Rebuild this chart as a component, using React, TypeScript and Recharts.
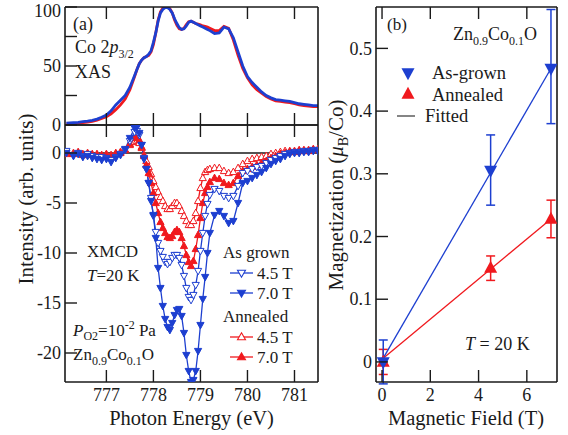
import React from "react";
import { ComposedChart, Line, Scatter, ErrorBar, XAxis, YAxis, ReferenceLine } from "recharts";

const FONT = '"Liberation Serif", "Times New Roman", Times, serif';
const BLUE = "#1d3fd0";
const RED = "#f0191e";
const INK = "#1a1a1a";
const W = 568;
const H = 435;

// ---- panel (a): photon energy grid (eV)
const energy = [
  776.15, 776.3, 776.4, 776.5, 776.6, 776.7, 776.8, 776.9, 777.0, 777.1, 777.2, 777.3, 777.4, 777.5, 777.6,
  777.65, 777.7, 777.75, 777.8, 777.85, 777.9, 777.95, 778.0, 778.05, 778.1, 778.15, 778.2, 778.25, 778.3,
  778.35, 778.4, 778.45, 778.5, 778.55, 778.6, 778.65, 778.7, 778.75, 778.8, 778.85, 778.9, 778.95, 779.0,
  779.05, 779.1, 779.15, 779.2,
  779.3, 779.4, 779.5, 779.6, 779.7, 779.8, 779.9, 780.0, 780.1, 780.2, 780.3, 780.4, 780.5, 780.6, 780.7,
  780.8, 780.9, 781.0, 781.1, 781.2, 781.3, 781.4, 781.5,
];

// XAS (normalised)
const xasAsGrown = [
  1.5, 2, 2.3, 2.8, 3.3, 4, 5, 6.5, 8.5, 12, 17, 21, 25, 32, 42,
  47, 52, 55, 57, 58, 60, 63, 70, 78, 88, 95, 98, 99.5, 99.5, 98, 95, 90, 86, 82.5, 81, 81.5, 84, 87, 88, 87,
  86, 85, 84, 83, 82, 81, 80,
  77.5, 78, 83, 81.5, 74, 62, 50, 41, 36, 32, 28, 25, 23, 21.5, 21, 20.5, 20, 19, 18, 17.5, 17, 16.5, 16.5,
];
const xasAnnealed = [
  1, 1.2, 1.5, 2, 2.5, 3, 4, 5.5, 7, 9.5, 13, 17, 22, 30, 41,
  47, 52, 55, 57, 58, 59, 62, 68, 78, 89, 96, 99, 100, 100, 98.5, 95, 89, 84.5, 81.5, 81, 82, 85, 87.5, 88, 87,
  86, 85.5, 85, 84, 83.5, 83, 82,
  80, 80, 83.5, 82, 72, 59, 48, 40, 34, 30, 27, 24, 22, 20.5, 20, 19.5, 19, 18, 17, 16.5, 16, 15.5, 15.5,
];

// XMCD
const xmcdGrown45 = [
  0.2, -0.2, 0, -0.3, -0.1, -0.3, -0.4, -0.4, -0.5, -0.7, -0.4, -0.1, 0.3, 1.2, 2.1,
  2.2, 1.8, 0.8, -0.5, -1.6, -3.0, -4.5, -6.3, -7.9, -9.0, -9.8, -10.4, -10.9, -11.1, -10.9, -10.5, -10.2,
  -10.2, -10.5, -11.2, -12.3, -13.5, -14.4, -14.7, -14.2, -13.2, -11.8, -9.8, -8.0, -6.3, -5.1, -4.2,
  -3.6, -3.8, -4.3, -4.5, -4.3, -3.3, -2.0, -1.8, -1.6, -1.4, -1.3, -1.0, -0.7, -0.5, -0.3, -0.1, 0, 0.1,
  0.1, 0.2, 0.2, 0.3, 0.3,
];
const xmcdGrown70 = [
  0, -0.3, -0.1, -0.4, -0.3, -0.5, -0.6, -0.7, -0.6, -0.9, -0.5, -0.2, 0.4, 1.5, 2.5,
  2.6, 2.0, 0.8, -0.6, -1.6, -3.0, -4.8, -6.2, -8.5, -11.5, -13.5, -15.3, -16.6, -17.4, -17.7, -17.0, -16.2,
  -15.7, -15.6, -16.3, -18.0, -20.2, -21.8, -22.9, -22.7, -21.8, -19.8, -17.2, -14.6, -12.4, -10.0, -8.0,
  -6.2, -5.8, -6.3, -7.0, -6.8, -5.0, -3.0, -2.8, -2.5, -2.2, -1.9, -1.5, -1.1, -0.8, -0.6, -0.3, -0.1, 0,
  0, 0.1, 0.1, 0.2, 0.2,
];
const xmcdAnnealed45 = [
  -0.1, 0, 0.1, -0.1, 0, -0.1, -0.1, -0.2, -0.1, -0.2, 0, 0.1, 0.3, 0.8, 1.1,
  1.2, 1.0, 0.5, -0.2, -0.8, -1.4, -2.1, -2.8, -3.4, -3.9, -4.4, -4.8, -5.3, -5.6, -5.6, -5.3, -5.0,
  -5.0, -5.3, -5.8, -6.3, -6.8, -7.2, -7.2, -6.8, -6.0, -4.8, -3.5, -2.5, -1.9, -1.7, -1.6,
  -1.5, -1.5, -1.8, -2.0, -1.9, -1.5, -1.1, -0.8, -0.6, -0.5, -0.4, -0.3, -0.1, 0, 0.1, 0.2, 0.2, 0.2,
  0.3, 0.3, 0.3, 0.4, 0.4,
];
const xmcdAnnealed70 = [
  0, -0.1, 0, -0.2, -0.1, -0.2, -0.2, -0.3, -0.2, -0.3, -0.1, 0, 0.3, 0.9, 1.5,
  1.6, 1.3, 0.6, -0.3, -1.2, -2.0, -3.0, -4.0, -5.0, -6.0, -6.9, -7.5, -8.0, -8.4, -8.5, -8.3, -7.9,
  -7.7, -7.9, -8.5, -9.3, -10.2, -10.9, -11.3, -10.8, -9.6, -8.2, -6.5, -5.0, -4.0, -3.4, -2.9,
  -2.5, -2.6, -3.0, -3.2, -3.0, -2.3, -1.8, -1.6, -1.4, -1.2, -1.0, -0.8, -0.5, -0.3, -0.1, 0, 0.1, 0.1,
  0.2, 0.2, 0.2, 0.3, 0.3,
];

const energyTicks = [777, 778, 779, 780, 781];
const xasTicks = [0, 25, 50, 75, 100];
const xasLabelled = [0, 50, 100];
const xmcdTicks = [0, -5, -10, -15, -20];

// ---- panel (b): magnetization vs field
const field = [0.05, 4.5, 7.0];
const momentAsGrown = [0.0, 0.305, 0.468];
const errAsGrown = [[0.035, 0.035], [0.055, 0.057], [0.088, 0.094]];
const momentAnnealed = [0.0, 0.15, 0.228];
const errAnnealed = [[0.02, 0.02], [0.02, 0.019], [0.03, 0.03]];
const fitField = [0.05, 7.0];
const fitAsGrown = [0.006, 0.468];
const fitAnnealed = [0.006, 0.228];
const fieldTicks = [0, 2, 4, 6];
const momentTicks = [0, 0.1, 0.2, 0.3, 0.4, 0.5];

const xasRows = energy.map((e, i) => ({ e, grown: xasAsGrown[i], ann: xasAnnealed[i] }));
const xmcdRows = energy.map((e, i) => ({
  e,
  g45: xmcdGrown45[i],
  g70: xmcdGrown70[i],
  a45: xmcdAnnealed45[i],
  a70: xmcdAnnealed70[i],
}));
const grownRows = field.map((f, i) => ({ f, m: momentAsGrown[i], err: errAsGrown[i] }));
const annealedRows = field.map((f, i) => ({ f, m: momentAnnealed[i], err: errAnnealed[i] }));
const fitGrownRows = fitField.map((f, i) => ({ f, m: fitAsGrown[i] }));
const fitAnnealedRows = fitField.map((f, i) => ({ f, m: fitAnnealed[i] }));

// panel frames (px)
const A_LEFT = 65;
const A_RIGHT = 318;
const XAS_TOP = 7;
const XAS_BOTTOM = 125;
const XMCD_BOTTOM = 382;
const B_LEFT = 376;
const B_RIGHT = 557;
const B_TOP = 7;
const B_BOTTOM = 382;

const E_DOMAIN: [number, number] = [776.12, 781.5];
const TICK = 12;
const AXIS = { stroke: INK, strokeWidth: 1.6 };
const TICK_FONT = 18;
// every axis is 1px thick, margins take that off
const AX = 1;
const frame = (top: number, bottom: number, left: number, right: number) => ({
  top: top - AX,
  bottom: H - bottom - AX,
  left: left - AX,
  right: W - right - AX,
});

// inward ticks drawn by hand, labels optional
const leftTick = (labelled: number[] | null, fmt: (v: number) => string) => (p: any) => {
  const v = p.payload.value;
  return (
    <g>
      <line x1={p.x} x2={p.x + TICK} y1={p.y} y2={p.y} stroke={INK} strokeWidth={1.4} />
      {(!labelled || labelled.includes(v)) && (
        <text x={p.x - 4} y={Math.max(p.y, 11)} dy="0.34em" textAnchor="end" fontSize={TICK_FONT}
          fontFamily={FONT} fill={INK}>
          {fmt(v)}
        </text>
      )}
    </g>
  );
};
const rightTick = (p: any) => (
  <line x1={p.x} x2={p.x - TICK} y1={p.y} y2={p.y} stroke={INK} strokeWidth={1.4} />
);
const upTick = (p: any) => (
  <line x1={p.x} x2={p.x} y1={p.y} y2={p.y - TICK} stroke={INK} strokeWidth={1.4} />
);
const downTick = (p: any) => (
  <line x1={p.x} x2={p.x} y1={p.y} y2={p.y + TICK} stroke={INK} strokeWidth={1.4} />
);
const bottomTick = (p: any) => (
  <g>
    <line x1={p.x} x2={p.x} y1={p.y} y2={p.y - TICK} stroke={INK} strokeWidth={1.4} />
    <text x={p.x} y={p.y + 19} textAnchor="middle" fontSize={TICK_FONT} fontFamily={FONT} fill={INK}>
      {p.payload.value}
    </text>
  </g>
);

const triUp = (cx: number, cy: number, r: number, h: number) =>
  `M${cx},${cy - h * 0.6}L${cx + r},${cy + h * 0.4}L${cx - r},${cy + h * 0.4}Z`;
const triDown = (cx: number, cy: number, r: number, h: number) =>
  `M${cx - r},${cy - h * 0.4}L${cx + r},${cy - h * 0.4}L${cx},${cy + h * 0.6}Z`;

const marker = (up: boolean, color: string, open: boolean) => (p: any) => {
  if (p.cx == null || p.cy == null) return <g key={p.index} />;
  const d = up ? triUp(p.cx, p.cy, 3.6, 6.5) : triDown(p.cx, p.cy, 3.6, 6.5);
  return <path key={p.index} d={d} fill={open ? "#fff" : color} stroke={color} strokeWidth={1} />;
};

const bigTri = (up: boolean, color: string) => (p: any) => (
  <path d={up ? triUp(p.cx, p.cy, 6.5, 12) : triDown(p.cx, p.cy, 6.5, 12)} fill={color} />
);

const noShape = () => <g />;

const layer: React.CSSProperties = { position: "absolute", left: 0, top: 0 };

function XasPanel() {
  return (
    <div style={layer}>
      <ComposedChart width={W} height={H} data={xasRows} margin={frame(XAS_TOP, XAS_BOTTOM, A_LEFT, A_RIGHT)}>
        <XAxis dataKey="e" type="number" domain={E_DOMAIN} allowDataOverflow ticks={energyTicks} interval={0}
          height={AX} tickSize={0} tickMargin={0} axisLine={AXIS} tickLine={false} tick={upTick} />
        <XAxis xAxisId="top" orientation="top" dataKey="e" type="number" domain={E_DOMAIN} allowDataOverflow
          ticks={energyTicks} interval={0} height={AX} tickSize={0} tickMargin={0} axisLine={AXIS}
          tickLine={false} tick={downTick} />
        <YAxis type="number" domain={[0, 100]} allowDataOverflow ticks={xasTicks} interval={0} width={AX}
          tickSize={0} tickMargin={0} axisLine={AXIS} tickLine={false}
          tick={leftTick(xasLabelled, (v) => String(v))} />
        <YAxis yAxisId="r" orientation="right" type="number" domain={[0, 100]} ticks={[50]} interval={0}
          width={AX} tickSize={0} tickMargin={0} axisLine={AXIS} tickLine={false} tick={rightTick} />
        <Line dataKey="ann" stroke={RED} strokeWidth={2.8} dot={false} isAnimationActive={false} />
        <Line dataKey="grown" stroke={BLUE} strokeWidth={2.8} dot={false} isAnimationActive={false} />
      </ComposedChart>
    </div>
  );
}

function XmcdPanel() {
  return (
    <div style={layer}>
      <ComposedChart width={W} height={H} data={xmcdRows} margin={frame(XAS_BOTTOM, XMCD_BOTTOM, A_LEFT, A_RIGHT)}>
        <XAxis dataKey="e" type="number" domain={E_DOMAIN} allowDataOverflow ticks={energyTicks} interval={0}
          height={AX} tickSize={0} tickMargin={0} axisLine={AXIS} tickLine={false} tick={bottomTick} />
        <XAxis xAxisId="top" orientation="top" dataKey="e" type="number" domain={E_DOMAIN} allowDataOverflow
          ticks={energyTicks} interval={0} height={AX} tickSize={0} tickMargin={0} axisLine={AXIS}
          tickLine={false} tick={downTick} />
        <YAxis type="number" domain={[-22.9, 2.8]} allowDataOverflow ticks={xmcdTicks} interval={0} width={AX}
          tickSize={0} tickMargin={0} axisLine={AXIS} tickLine={false}
          tick={leftTick(null, (v) => String(v))} />
        <YAxis yAxisId="r" orientation="right" type="number" domain={[-22.9, 2.8]} ticks={xmcdTicks}
          interval={0} width={AX} tickSize={0} tickMargin={0} axisLine={AXIS} tickLine={false} tick={rightTick} />
        <ReferenceLine y={0} stroke={INK} strokeWidth={1.4} />
        <Line dataKey="a45" stroke={RED} strokeWidth={1.3} dot={marker(true, RED, true)} isAnimationActive={false} />
        <Line dataKey="a70" stroke={RED} strokeWidth={1.3} dot={marker(true, RED, false)} isAnimationActive={false} />
        <Line dataKey="g45" stroke={BLUE} strokeWidth={1.3} dot={marker(false, BLUE, true)} isAnimationActive={false} />
        <Line dataKey="g70" stroke={BLUE} strokeWidth={1.3} dot={marker(false, BLUE, false)} isAnimationActive={false} />
      </ComposedChart>
    </div>
  );
}

function MagnetizationPanel() {
  const mDomain: [number, number] = [-0.032, 0.566];
  return (
    <div style={layer}>
      <ComposedChart width={W} height={H} margin={frame(B_TOP, B_BOTTOM, B_LEFT, B_RIGHT)}>
        <XAxis dataKey="f" type="number" domain={[-0.25, 7.25]} allowDataOverflow ticks={fieldTicks} interval={0}
          height={AX} tickSize={0} tickMargin={0} axisLine={AXIS} tickLine={false} tick={bottomTick} />
        <XAxis xAxisId="top" orientation="top" dataKey="f" type="number" domain={[-0.25, 7.25]} allowDataOverflow
          ticks={fieldTicks} interval={0} height={AX} tickSize={0} tickMargin={0} axisLine={AXIS}
          tickLine={false} tick={downTick} />
        <YAxis type="number" domain={mDomain} allowDataOverflow ticks={momentTicks} interval={0} width={AX}
          tickSize={0} tickMargin={0} axisLine={AXIS} tickLine={false}
          tick={leftTick(null, (v) => (v === 0 ? "0" : v.toFixed(1)))} />
        <YAxis yAxisId="r" orientation="right" type="number" domain={mDomain} ticks={momentTicks} interval={0}
          width={AX} tickSize={0} tickMargin={0} axisLine={AXIS} tickLine={false} tick={rightTick} />
        <Scatter data={fitAnnealedRows} dataKey="m" line={{ stroke: RED, strokeWidth: 1.3 }} shape={noShape}
          isAnimationActive={false} />
        <Scatter data={fitGrownRows} dataKey="m" line={{ stroke: BLUE, strokeWidth: 1.3 }} shape={noShape}
          isAnimationActive={false} />
        <Scatter data={annealedRows} dataKey="m" fill={RED} shape={bigTri(true, RED)} isAnimationActive={false}>
          <ErrorBar dataKey="err" direction="y" width={4.5} stroke={RED} strokeWidth={1.5} />
        </Scatter>
        <Scatter data={grownRows} dataKey="m" fill={BLUE} shape={bigTri(false, BLUE)} isAnimationActive={false}>
          <ErrorBar dataKey="err" direction="y" width={4.5} stroke={BLUE} strokeWidth={1.5} />
        </Scatter>
      </ComposedChart>
    </div>
  );
}

const sub = { fontSize: 12 };

function Annotations() {
  const legendRows = [
    { y: 273, up: false, color: BLUE, open: true, text: "4.5 T" },
    { y: 293, up: false, color: BLUE, open: false, text: "7.0 T" },
    { y: 337, up: true, color: RED, open: true, text: "4.5 T" },
    { y: 357, up: true, color: RED, open: false, text: "7.0 T" },
  ];
  return (
    <svg width={W} height={H} style={{ ...layer, pointerEvents: "none" }} fontFamily={FONT} fill={INK}>
      {/* axis titles */}
      <text x={33} y={199} transform="rotate(-90 33 199)" textAnchor="middle" fontSize={21}>
        Intensity (arb. units)
      </text>
      <text x={191.5} y={425} textAnchor="middle" fontSize={20.5}>Photon Energy (eV)</text>
      <text x={466} y={425} textAnchor="middle" fontSize={20.5}>Magnetic Field (T)</text>
      <text x={343} y={195} transform="rotate(-90 343 195)" textAnchor="middle" fontSize={21}>
        Magnetization (<tspan fontStyle="italic">μ</tspan>
        <tspan fontSize={14} dy={5}>B</tspan>
        <tspan dy={-5}>/Co)</tspan>
      </text>

      {/* panel (a) */}
      <text x={73} y={30} fontSize={18}>(a)</text>
      <text x={75} y={53} fontSize={18}>
        Co 2<tspan fontStyle="italic">p</tspan>
        <tspan {...sub} dy={5}>3/2</tspan>
      </text>
      <text x={75} y={78} fontSize={18}>XAS</text>
      <text x={87} y={257} fontSize={17}>XMCD</text>
      <text x={87} y={281} fontSize={17}>
        <tspan fontStyle="italic">T</tspan>=20 K
      </text>
      <text x={73} y={336} fontSize={17}>
        <tspan fontStyle="italic">P</tspan>
        <tspan {...sub} dy={4}>O2</tspan>
        <tspan dy={-4}>=10</tspan>
        <tspan {...sub} dy={-7}>-2</tspan>
        <tspan dy={7}> Pa</tspan>
      </text>
      <text x={73} y={360} fontSize={17}>
        Zn<tspan {...sub} dy={5}>0.9</tspan>
        <tspan dy={-5}>Co</tspan>
        <tspan {...sub} dy={5}>0.1</tspan>
        <tspan dy={-5}>O</tspan>
      </text>
      <text x={223} y={258} fontSize={17}>As grown</text>
      <text x={223} y={322} fontSize={17}>Annealed</text>
      {legendRows.map((r) => (
        <g key={r.y + r.text}>
          <line x1={230} x2={253} y1={r.y} y2={r.y} stroke={r.color} strokeWidth={1.3} />
          <path d={r.up ? triUp(241.5, r.y, 4, 7) : triDown(241.5, r.y, 4, 7)} fill={r.open ? "#fff" : r.color}
            stroke={r.color} strokeWidth={1.1} />
          <text x={257} y={r.y + 6} fontSize={17}>{r.text}</text>
        </g>
      ))}

      {/* panel (b) */}
      <text x={387} y={30} fontSize={17}>(b)</text>
      <text x={453} y={40} fontSize={18}>
        Zn<tspan {...sub} dy={5}>0.9</tspan>
        <tspan dy={-5}>Co</tspan>
        <tspan {...sub} dy={5}>0.1</tspan>
        <tspan dy={-5}>O</tspan>
      </text>
      <path d={triDown(408, 73, 6.5, 12)} fill={BLUE} />
      <text x={432} y={79} fontSize={18.5}>As-grown</text>
      <path d={triUp(408, 94, 6.5, 12)} fill={RED} />
      <text x={432} y={101} fontSize={18.5}>Annealed</text>
      <line x1={397} x2={415} y1={116} y2={116} stroke="#333" strokeWidth={1.2} />
      <text x={425} y={122} fontSize={18.5}>Fitted</text>
      <text x={465} y={350} fontSize={18}>
        <tspan fontStyle="italic">T</tspan> = 20 K
      </text>
    </svg>
  );
}

export default function App() {
  return (
    <div style={{ ...layer, width: W, height: H, background: "#fff", fontFamily: FONT }}>
      <XasPanel />
      <XmcdPanel />
      <MagnetizationPanel />
      <Annotations />
    </div>
  );
}
